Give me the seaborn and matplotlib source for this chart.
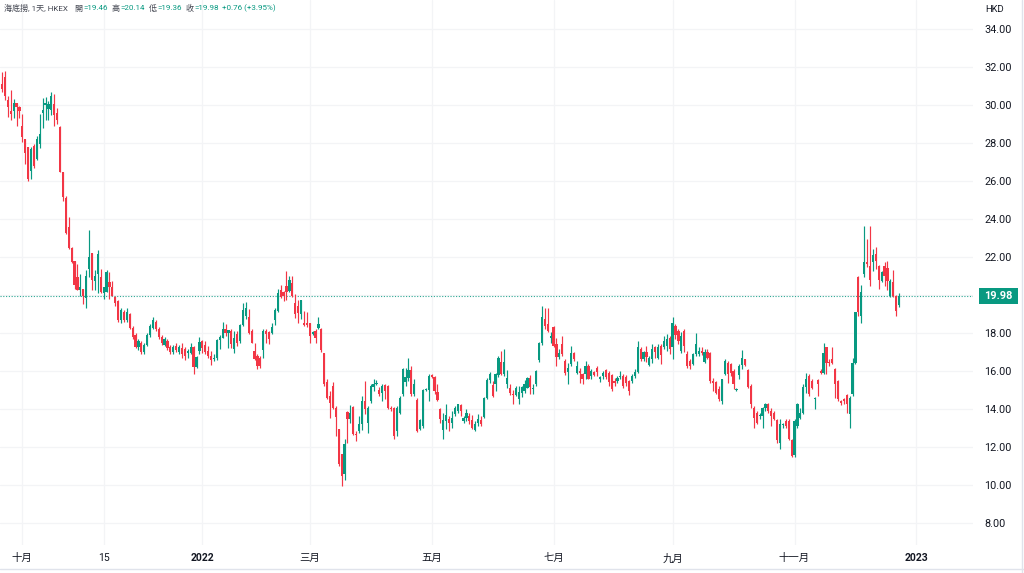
import matplotlib
matplotlib.use("Agg")
import matplotlib.pyplot as plt
import matplotlib.transforms as mtransforms
from matplotlib.patches import Rectangle
from matplotlib.lines import Line2D
import numpy as np
import pandas as pd
import seaborn as sns

# ---------------- data (daily candles, HKD) ----------------
opens = [31.10, 31.50, 30.25, 29.70, 29.70, 30.10, 29.90, 28.90, 28.20, 27.80,
         26.55, 27.85, 27.18, 27.97, 29.60, 30.00, 29.80, 29.76, 30.08, 29.60,
         28.85, 26.50, 25.10, 23.60, 22.50, 21.80, 20.97, 20.30, 20.35, 19.83,
         21.37, 22.20, 20.76, 21.10, 20.97, 20.13, 20.15, 20.70, 20.45, 19.88,
         19.70, 18.70, 19.10, 18.70, 19.00, 18.30, 17.90, 17.30, 17.50, 17.00,
         17.40, 17.90, 18.30, 18.60, 18.20, 17.80, 17.40, 17.60, 17.30, 17.00,
         17.30, 17.00, 17.21, 17.16, 16.98, 16.98, 17.28, 16.23, 17.07, 17.60,
         17.38, 17.07, 16.80, 16.63, 16.72, 17.63, 17.77, 18.21, 18.03, 18.12,
         17.16, 17.98, 17.60, 18.44, 18.91, 18.86, 18.09, 17.07, 16.80, 16.72,
         17.10, 18.12, 18.07, 18.03, 18.69, 19.18, 20.27, 20.15, 20.50, 20.23,
         20.62, 19.57, 19.44, 19.00, 18.56, 18.56, 18.56, 17.98, 18.12, 18.26,
         18.21, 16.98, 15.45, 14.70, 15.22, 14.08, 12.94, 11.62, 10.60, 13.87,
         13.47, 14.12, 12.71, 12.85, 13.24, 14.43, 13.29, 14.43, 15.17, 15.31,
         14.99, 14.87, 15.28, 15.22, 14.08, 14.08, 12.85, 13.82, 14.78, 15.43,
         15.66, 16.05, 14.78, 14.47, 12.94, 13.11, 14.99, 14.99, 15.79, 15.70,
         14.92, 13.99, 12.88, 13.38, 13.47, 13.29, 13.73, 13.90, 14.22, 13.38,
         13.55, 13.64, 13.41, 12.88, 13.29, 13.41, 13.59, 14.61, 15.52, 15.28,
         15.31, 15.80, 16.51, 15.84, 15.35, 15.14, 14.82, 14.75, 14.52, 14.87,
         14.96, 15.14, 15.63, 15.05, 15.35, 16.60, 17.50, 18.74, 18.48, 17.77,
         18.35, 17.42, 16.77, 17.42, 16.54, 15.96, 16.37, 16.98, 15.93, 16.01,
         15.84, 15.84, 16.28, 15.75, 15.96, 16.19, 15.61, 15.75, 16.07, 15.93,
         15.79, 15.49, 15.49, 15.70, 15.75, 15.72, 15.49, 15.49, 15.75, 15.96,
         17.19, 16.63, 17.02, 16.31, 16.63, 17.30, 16.72, 17.33, 17.25, 17.33,
         17.77, 17.30, 18.40, 18.12, 17.07, 18.12, 16.89, 16.54, 16.37, 16.89,
         16.89, 17.07, 16.49, 17.02, 16.95, 15.49, 15.43, 15.05, 14.43, 15.84,
         16.45, 16.37, 16.01, 15.01, 15.79, 16.31, 16.63, 16.07, 15.22, 14.08,
         13.82, 13.64, 13.64, 14.08, 14.26, 13.90, 13.82, 13.43, 12.24, 13.15,
         13.38, 13.38, 12.38, 11.57, 13.11, 13.55, 13.82, 15.19, 15.75, 15.49,
         14.52, 15.54, 16.01, 15.93, 17.25, 16.49, 16.63, 16.10, 15.49, 14.43,
         14.52, 14.74, 13.73, 14.78, 16.45, 20.94, 18.92, 21.11, 21.73, 21.55,
         21.73, 22.17, 21.55, 20.76, 21.55, 21.41, 19.94, 20.70, 19.97, 19.46]
highs = [31.75, 31.80, 30.47, 30.80, 30.30, 30.10, 29.95, 29.55, 28.20, 27.80,
         27.80, 27.97, 28.40, 29.55, 30.40, 30.43, 30.20, 30.70, 30.60, 29.85,
         28.88, 26.50, 25.20, 24.10, 22.55, 21.80, 21.64, 21.10, 20.35, 21.32,
         23.43, 22.20, 21.32, 22.38, 21.37, 20.44, 21.32, 21.23, 20.76, 19.97,
         19.75, 19.30, 19.20, 19.35, 19.05, 18.40, 18.00, 17.70, 17.60, 17.50,
         18.00, 18.50, 18.86, 18.70, 18.30, 17.90, 17.80, 17.70, 17.40, 17.40,
         17.50, 17.40, 17.46, 17.28, 17.16, 17.50, 17.33, 16.80, 17.80, 17.63,
         17.60, 17.33, 17.07, 16.89, 17.68, 17.90, 18.60, 18.48, 18.16, 18.21,
         18.09, 18.12, 18.51, 19.57, 19.62, 19.27, 18.21, 17.51, 16.89, 16.80,
         18.21, 18.21, 18.12, 18.56, 19.35, 20.32, 20.55, 20.20, 21.29, 21.03,
         21.03, 20.06, 19.74, 19.74, 19.18, 19.09, 18.56, 18.12, 18.21, 18.86,
         18.25, 16.98, 15.57, 14.96, 15.45, 14.17, 12.94, 11.62, 12.41, 13.90,
         14.22, 14.17, 12.85, 13.64, 14.70, 15.49, 14.17, 15.31, 15.57, 15.52,
         15.17, 15.35, 15.35, 15.26, 14.17, 14.12, 14.17, 14.70, 16.19, 16.19,
         16.72, 16.28, 15.57, 14.57, 13.47, 15.05, 15.14, 15.84, 15.84, 15.75,
         15.31, 14.08, 13.82, 14.26, 13.64, 13.90, 14.17, 14.29, 14.26, 13.64,
         13.99, 13.82, 13.69, 13.38, 13.73, 13.64, 14.64, 15.63, 15.98, 15.49,
         15.92, 16.81, 17.07, 17.16, 16.05, 15.35, 14.99, 15.22, 15.22, 15.22,
         15.52, 15.70, 15.80, 15.31, 16.05, 17.55, 19.44, 19.35, 19.35, 18.04,
         18.39, 17.77, 17.16, 17.83, 16.63, 16.45, 17.33, 17.02, 16.54, 16.19,
         15.93, 16.54, 16.37, 16.10, 16.01, 16.28, 15.75, 16.01, 16.14, 16.01,
         15.84, 15.66, 15.75, 16.01, 15.84, 15.79, 15.54, 15.84, 16.10, 17.60,
         17.25, 17.07, 17.33, 16.81, 17.42, 17.33, 17.42, 17.42, 17.86, 17.95,
         17.86, 18.83, 18.50, 18.21, 18.04, 18.21, 17.07, 16.63, 16.98, 18.00,
         17.25, 17.25, 17.16, 17.16, 17.02, 15.66, 15.49, 15.22, 15.61, 16.63,
         16.54, 16.45, 16.10, 15.14, 16.37, 17.12, 16.66, 16.10, 15.31, 14.17,
         13.90, 13.82, 14.12, 14.35, 14.35, 14.08, 13.90, 13.47, 13.47, 13.29,
         13.47, 13.47, 12.45, 13.47, 14.35, 14.08, 15.31, 15.93, 15.84, 15.58,
         14.65, 15.58, 16.10, 17.51, 17.25, 16.63, 17.25, 16.15, 15.54, 14.50,
         14.60, 14.78, 14.70, 16.72, 19.09, 20.99, 20.53, 23.66, 22.96, 23.66,
         22.43, 22.52, 21.59, 21.29, 21.76, 21.82, 20.85, 21.30, 20.00, 20.14]
lows = [30.70, 30.25, 29.40, 29.20, 29.30, 28.90, 29.30, 28.05, 26.90, 26.00,
        26.10, 26.70, 27.10, 27.75, 28.80, 29.20, 29.20, 29.50, 28.88, 28.99,
        26.47, 24.98, 23.22, 22.43, 21.70, 20.30, 20.27, 19.95, 19.53, 19.35,
        20.94, 20.27, 20.27, 20.13, 20.10, 19.78, 20.15, 19.78, 19.97, 19.44,
        18.60, 18.55, 18.60, 18.60, 18.20, 17.70, 17.20, 17.10, 16.90, 16.90,
        17.30, 17.80, 18.20, 18.10, 17.70, 17.40, 17.30, 17.10, 16.90, 16.90,
        17.00, 16.90, 16.72, 16.58, 16.72, 16.93, 15.84, 16.19, 16.90, 16.98,
        16.89, 16.72, 16.33, 16.54, 16.58, 17.16, 17.74, 17.86, 17.24, 17.21,
        16.98, 17.33, 17.51, 18.39, 18.74, 17.98, 17.46, 16.58, 16.10, 16.19,
        16.72, 17.46, 17.42, 17.98, 18.44, 19.09, 19.85, 19.70, 19.74, 20.15,
        19.90, 18.79, 18.56, 18.74, 18.39, 18.30, 17.51, 17.90, 17.51, 18.21,
        17.03, 15.22, 14.52, 13.55, 13.99, 12.59, 11.00, 9.95, 10.30, 12.20,
        13.29, 12.64, 12.32, 12.76, 12.88, 13.73, 12.76, 14.35, 14.96, 15.28,
        14.70, 14.43, 14.52, 13.99, 13.90, 12.41, 12.60, 13.73, 14.70, 15.22,
        15.49, 14.70, 14.70, 12.81, 12.88, 13.03, 14.96, 14.43, 15.66, 14.78,
        14.43, 13.29, 12.41, 12.94, 12.85, 13.03, 13.64, 13.82, 13.64, 13.29,
        13.38, 13.20, 12.94, 12.85, 13.11, 13.11, 13.52, 14.52, 15.40, 14.64,
        14.96, 15.70, 15.80, 15.75, 15.10, 14.75, 14.29, 14.70, 14.26, 14.64,
        14.87, 15.10, 14.82, 14.82, 15.22, 16.50, 17.40, 18.21, 18.07, 17.51,
        17.25, 16.28, 16.63, 16.81, 15.78, 15.31, 16.28, 16.54, 15.84, 15.40,
        15.31, 15.57, 15.57, 15.57, 15.75, 15.75, 15.43, 15.61, 15.57, 15.22,
        14.96, 15.22, 15.36, 15.57, 15.14, 15.22, 14.73, 15.40, 15.66, 15.89,
        16.54, 16.54, 16.49, 16.28, 16.45, 16.72, 16.63, 16.37, 17.16, 17.07,
        16.89, 16.63, 17.70, 17.42, 16.98, 17.02, 16.19, 16.10, 16.31, 16.81,
        16.81, 16.84, 16.45, 16.63, 15.40, 14.96, 14.78, 14.43, 14.26, 15.79,
        15.40, 15.75, 15.08, 14.96, 15.57, 16.10, 16.28, 15.14, 14.08, 13.03,
        13.20, 13.47, 13.03, 13.90, 13.82, 13.11, 13.43, 12.24, 11.92, 13.03,
        13.03, 12.38, 11.50, 11.50, 13.03, 13.47, 13.73, 14.87, 14.70, 15.08,
        14.00, 14.70, 15.84, 15.84, 15.84, 16.30, 16.40, 14.61, 14.45, 14.20,
        14.30, 13.82, 13.03, 14.70, 16.37, 18.92, 18.56, 20.94, 21.47, 20.50,
        21.29, 21.38, 20.32, 20.67, 20.50, 20.29, 19.90, 19.90, 18.93, 19.36]
closes = [30.87, 30.50, 29.90, 29.55, 30.10, 29.90, 29.70, 28.30, 27.50, 26.10,
          27.70, 26.80, 28.20, 28.50, 29.75, 30.10, 30.05, 30.50, 29.50, 29.20,
          26.50, 25.15, 23.30, 22.50, 21.73, 20.55, 20.30, 20.45, 19.97, 21.00,
          21.99, 20.80, 21.00, 22.17, 20.15, 20.41, 21.20, 20.45, 19.97, 19.60,
          18.70, 19.20, 18.70, 19.10, 18.30, 17.80, 17.30, 17.60, 17.00, 17.40,
          17.90, 18.40, 18.70, 18.20, 17.80, 17.50, 17.70, 17.20, 17.00, 17.30,
          17.10, 17.30, 16.90, 16.80, 17.07, 17.28, 16.23, 16.75, 17.56, 17.21,
          17.03, 16.80, 16.58, 16.72, 17.63, 17.80, 18.21, 18.03, 18.16, 17.42,
          17.77, 17.51, 18.42, 19.21, 19.35, 18.03, 17.51, 16.63, 16.28, 16.28,
          18.12, 17.95, 17.68, 18.33, 19.21, 20.11, 19.93, 19.97, 20.15, 20.80,
          19.97, 19.00, 19.04, 19.74, 18.44, 18.44, 17.86, 18.03, 17.77, 18.48,
          17.11, 15.31, 14.61, 14.35, 14.08, 13.59, 11.09, 10.48, 12.15, 13.47,
          13.82, 12.71, 12.64, 13.20, 14.43, 13.99, 14.08, 15.22, 15.35, 15.35,
          14.78, 15.22, 14.96, 14.08, 13.99, 12.60, 14.08, 14.57, 16.10, 15.70,
          16.05, 14.78, 15.31, 12.85, 13.41, 14.99, 15.05, 15.75, 15.70, 14.96,
          14.47, 13.47, 13.41, 13.69, 13.29, 13.52, 14.08, 14.26, 13.90, 13.52,
          13.82, 13.38, 12.99, 13.20, 13.47, 13.24, 14.57, 15.52, 15.87, 14.70,
          15.84, 16.72, 15.84, 16.51, 15.63, 14.87, 14.75, 15.14, 14.92, 15.17,
          15.35, 15.63, 15.17, 15.14, 16.01, 17.50, 18.83, 18.39, 18.12, 17.86,
          17.33, 16.77, 16.98, 16.89, 15.89, 16.19, 16.98, 16.63, 16.28, 15.89,
          15.61, 16.28, 15.61, 16.01, 15.79, 15.96, 15.72, 15.93, 15.72, 15.43,
          15.05, 15.36, 15.66, 15.75, 15.22, 15.40, 14.96, 15.75, 15.96, 17.25,
          16.63, 17.02, 16.77, 16.72, 17.19, 17.02, 17.25, 16.84, 17.60, 17.69,
          17.16, 18.56, 17.90, 17.60, 17.86, 17.33, 16.28, 16.28, 16.89, 17.42,
          17.07, 16.95, 17.02, 16.72, 15.49, 15.36, 14.87, 14.52, 15.57, 16.54,
          15.84, 15.93, 15.31, 15.08, 16.28, 16.72, 16.31, 15.19, 14.26, 13.55,
          13.29, 13.68, 14.08, 14.26, 13.90, 13.64, 13.50, 12.38, 13.20, 13.20,
          13.11, 12.45, 11.53, 13.38, 14.26, 13.82, 15.19, 15.58, 14.78, 15.14,
          14.61, 15.31, 15.93, 16.98, 16.45, 16.45, 16.45, 15.31, 14.52, 14.35,
          14.43, 14.26, 14.61, 16.45, 19.09, 19.09, 20.18, 21.76, 21.64, 20.81,
          22.12, 21.82, 20.81, 21.20, 21.03, 20.76, 20.76, 19.97, 19.18, 19.98]

tick_idx = [7, 35, 69, 106, 148, 190, 231, 273, 315]
tick_labels = ["十月", "15", "2022", "三月", "五月", "七月", "九月", "十一月", "2023"]
bold_labels = ["2022", "2023"]
price_ticks = [8, 10, 12, 14, 16, 18, 20, 22, 24, 26, 28, 30, 32, 34]
last_price = closes[-1]
title_parts = [("海底撈, 1天, HKEX", "gray", 4), ("開", "gray", 74), ("=19.46", "val", 83),
               ("高", "gray", 111.5), ("=20.14", "val", 120), ("低", "gray", 148.5), ("=19.36", "val", 157),
               ("收", "gray", 185.5), ("=19.98", "val", 194), ("+0.76 (+3.95%)", "val", 222)]

# ---------------- style ----------------
UP = "#089981"
DOWN = "#F23645"
TXT = "#131722"
GRID = "#f3f4f6"

sns.set_theme(style="white")
plt.rcParams["font.family"] = ["Roboto", "Noto Sans CJK TC", "DejaVu Sans"]

df = pd.DataFrame({"open": opens, "high": highs, "low": lows, "close": closes})
df["idx"] = np.arange(len(df))
df["up"] = df["close"] >= df["open"]
df["color"] = np.where(df["up"], UP, DOWN)
df["body_lo"] = df[["open", "close"]].min(axis=1)
df["body_h"] = (df["close"] - df["open"]).abs().clip(lower=0.06)

W, H = 1024, 573
fig = plt.figure(figsize=(W / 100, H / 100), dpi=100)
fig.patch.set_facecolor("white")
ax = fig.add_axes([0, 28 / H, 973 / W, 545 / H])
ax.set_facecolor("white")

# grid
for p in price_ticks:
    ax.axhline(p, color=GRID, lw=0.9, zorder=0)
for t in tick_idx:
    ax.axvline(t, color=GRID, lw=0.9, zorder=0)

# candles
ax.vlines(df["idx"], df["low"], df["high"], colors=df["color"], lw=0.85, zorder=2)
ax.bar(df["idx"], df["body_h"], bottom=df["body_lo"], width=0.76, color=df["color"],
       linewidth=0, zorder=3)

# last price line
ax.axhline(last_price, color=UP, lw=0.8, ls=(0, (1, 1.5)), alpha=0.85, zorder=1)

px_per_bar = 2.903
ax.set_xlim(-2 / px_per_bar, 971 / px_per_bar)
ax.set_ylim(34 - (545 - 29.2) / 19.0, 34 + 29.2 / 19.0)

for s in ax.spines.values():
    s.set_visible(False)

# x ticks
ax.set_xticks(tick_idx)
ax.set_xticklabels(tick_labels)
ax.tick_params(axis="x", length=0, pad=6, labelsize=7.5, colors=TXT)
for lab in ax.get_xticklabels():
    if lab.get_text() in bold_labels:
        lab.set_fontweight("bold")

# y ticks (right)
ax.yaxis.tick_right()
ax.set_yticks(price_ticks)
ax.set_yticklabels([f"{p:.2f}" for p in price_ticks])
ax.tick_params(axis="y", length=0, pad=8, labelsize=7.8, colors=TXT)
ax.grid(False)

# last price label box
trans = mtransforms.blended_transform_factory(fig.transFigure, ax.transData)
box_h = 16 / 19.0
ax.add_artist(Rectangle((979 / W, last_price - box_h / 2), 39 / W, box_h, transform=trans,
                        facecolor=UP, edgecolor="none", clip_on=False, zorder=5))
ax.text(998.5 / W, last_price, f"{last_price:.2f}", transform=trans, ha="center", va="center",
        color="white", fontsize=7.8, fontweight="bold", zorder=6, clip_on=False)

# currency label
fig.text(995 / W, 1 - 9 / H, "HKD", ha="center", va="center", fontsize=6.8, color=TXT)

# title
for txt, kind, xp in title_parts:
    fig.text(xp / W, 1 - 8 / H, txt, ha="left", va="center", fontsize=5.8,
             color=(UP if kind == "val" else "#434651"))

# borders
fig.add_artist(Line2D([0, 1], [1 - 569 / H, 1 - 569 / H], transform=fig.transFigure,
                      color="#e0e3eb", lw=1))
fig.add_artist(Line2D([1021.5 / W, 1021.5 / W], [0, 1], transform=fig.transFigure,
                      color="#e0e3eb", lw=1))

fig.savefig("out.png", dpi=100, facecolor="white")
